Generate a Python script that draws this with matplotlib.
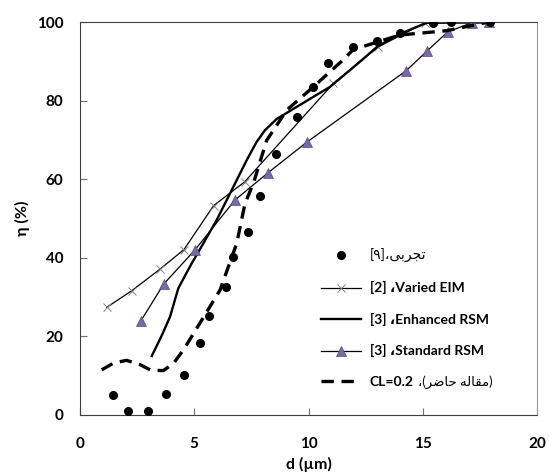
import matplotlib
matplotlib.use("Agg")
import matplotlib.pyplot as plt

# experimental points (تجربی)
d_exp = [1.46, 2.11, 2.99, 3.76, 4.54, 5.24, 5.66, 6.37, 6.70, 7.35, 7.89,
         8.56, 9.50, 10.21, 10.87, 11.96, 12.98, 14.0, 15.46, 16.22, 17.94]
eta_exp = [5.1, 1.1, 1.0, 5.4, 10.2, 18.2, 25.2, 32.5, 40.2, 46.5, 55.8,
           66.3, 75.8, 83.4, 89.5, 93.7, 95.2, 97.3, 99.8, 100.0, 100.0]

# Varied EIM [2]
d_eim = [1.17, 2.26, 3.50, 4.55, 5.85, 7.20, 11.09, 13.06, 15.10, 17.87]
eta_eim = [27.4, 31.6, 37.1, 42.1, 53.3, 59.3, 84.4, 93.7, 99.8, 99.8]

# Enhanced RSM [3]
d_enh = [3.14, 3.60, 3.94, 4.30, 4.60, 4.89, 5.40, 5.98, 6.86, 7.30, 7.73,
         8.10, 8.60, 9.48, 10.94, 12.25, 13.00, 14.00, 15.17, 17.90]
eta_enh = [15.0, 20.5, 25.0, 32.2, 35.5, 38.6, 43.7, 49.6, 59.8, 64.9, 69.5,
           72.5, 75.3, 78.4, 83.5, 89.9, 93.7, 97.0, 99.8, 100.0]

# Standard RSM [3]
d_std = [2.67, 3.66, 5.03, 6.78, 8.24, 9.92, 14.27, 15.20, 16.09, 17.14, 17.90]
eta_std = [24.0, 33.3, 42.0, 54.7, 61.7, 69.4, 87.6, 92.7, 97.5, 99.8, 100.0]

# CL=0.2 (present work)
d_cl = [0.95, 1.5, 2.04, 2.6, 3.1, 3.65, 4.1, 4.52, 5.25, 6.13, 6.86, 7.22,
        7.59, 8.17, 9.05, 10.21, 11.5, 11.96, 14.0, 16.05, 17.2, 17.9]
eta_cl = [11.5, 13.3, 13.9, 12.9, 11.4, 11.3, 13.2, 16.5, 23.4, 31.8, 43.7,
          53.8, 59.0, 69.9, 77.6, 83.5, 90.3, 93.0, 96.7, 97.8, 99.2, 100.0]

x_ticks = [0, 5, 10, 15, 20]
y_ticks = [0, 20, 40, 60, 80, 100]

# Persian labels, written in visual (left-to-right, shaped) order
lab_exp = "[\u06F9]\u060C" + "\uFEF0\uFE91\uFEAE\uFEA0\uFE97"
lab_eim = "[2] \u060CVaried EIM"
lab_enh = "[3] \u060CEnhanced RSM"
lab_std = "[3] \u060CStandard RSM"
lab_cl = "CL=0.2"
lab_cl_fa = ("\u060C(" + "\uFEAE\uFEBF\uFE8E\uFEA3" + " "
             + "\uFEEA\uFEDF\uFE8E\uFED8\uFEE3" + ")")

fonts = ["Lato", "DejaVu Sans"]

fig = plt.figure(figsize=(5.49, 4.74), dpi=100)
ax = fig.add_axes([0.1457, 0.1245, 0.8325, 0.829])

ax.plot(d_exp, eta_exp, 'o', color='black', ms=5.5, label=lab_exp, zorder=5)
ax.plot(d_eim, eta_eim, '-', color='black', lw=0.9, marker='x', ms=6,
        mec='#808080', mew=0.7, label=lab_eim)
ax.plot(d_enh, eta_enh, '-', color='black', lw=1.7, label=lab_enh)
ax.plot(d_std, eta_std, '-', color='black', lw=0.9, marker='^', ms=6.5,
        mfc='#7B68A6', mec='#5A4A80', mew=0.5, label=lab_std)
ax.plot(d_cl, eta_cl, '--', color='black', lw=2.4, dashes=(3.7, 2.3),
        label=lab_cl)

ax.set_xlim(0, 20)
ax.set_ylim(0, 100)
ax.set_xticks(x_ticks)
ax.set_yticks(y_ticks)
ax.tick_params(direction='in', length=5, width=0.8, color='#707070',
               labelsize=11, pad=12)
ax.tick_params(axis='x', pad=16)
for lbl in ax.get_xticklabels() + ax.get_yticklabels():
    lbl.set_family(fonts)
    lbl.set_fontweight('bold')

for side in ('left', 'bottom', 'top'):
    ax.spines[side].set_color('#404040')
ax.spines['right'].set_color('#999999')

ax.set_xlabel('d (\u00b5m)', family=fonts, fontweight='bold', fontsize=11.5,
              labelpad=4)
ax.set_ylabel('\u03b7 (%)', family=fonts, fontweight='bold', fontsize=11.5,
              labelpad=5)

leg = ax.legend(loc='upper left', bbox_to_anchor=(0.5, 0.455), frameon=False,
                handlelength=2.9, labelspacing=1.33, handletextpad=0.6,
                prop={'family': fonts, 'weight': 'bold', 'size': 10})
leg.get_texts()[0].set_fontweight('normal')

# Persian tail of the last legend entry, in regular weight
fig.canvas.draw()
bb = leg.get_texts()[4].get_window_extent()
fig.text((bb.x1 + 4) / fig.bbox.width, (bb.y0 + bb.y1) / 2 / fig.bbox.height,
         lab_cl_fa, family=fonts, fontsize=9.5, va='center', ha='left')

fig.savefig('out.png', dpi=100)
